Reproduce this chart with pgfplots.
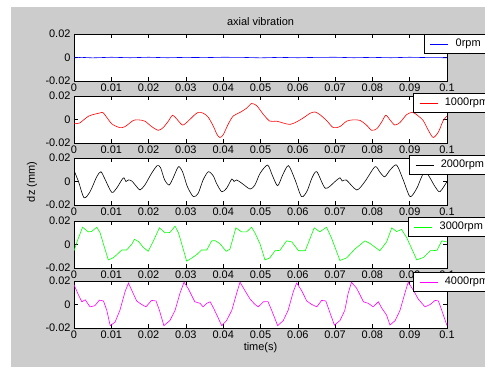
\documentclass[border=0pt]{standalone}
\usepackage{fontspec}
\setmainfont{Liberation Sans}
\usepackage{pgfplots}
\pgfplotsset{compat=1.18}
\definecolor{figgray}{RGB}{204,204,204}
\definecolor{mblue}{RGB}{0,0,255}
\definecolor{mred}{RGB}{255,0,0}
\definecolor{mgreen}{RGB}{0,255,0}
\definecolor{mmag}{RGB}{255,0,255}
\newcommand{\tf}{\fontsize{11}{12}\selectfont}
\pgfplotsset{
  sub/.style={
    at={(74bp,#1)}, anchor=south west,
    width=373bp, height=47bp, scale only axis,
    xmin=0, xmax=0.1, ymin=-0.02, ymax=0.02,
    scaled x ticks=false, scaled y ticks=false,
    xtick={0,0.01,0.02,0.03,0.04,0.05,0.06,0.07,0.08,0.09,0.1},
    xticklabels={0,0.01,0.02,0.03,0.04,0.05,0.06,0.07,0.08,0.09,0.1},
    ytick={-0.02,0,0.02}, yticklabels={-0.02,0,0.02},
    tick align=inside, major tick length=4bp,
    axis line style={line width=0.5bp},
    every tick/.style={black, line width=0.5bp},
    tick label style={font=\tf},
    xticklabel style={yshift=1bp},
    axis background/.style={fill=white},
    legend style={font=\tf, draw=black, line width=0.5bp, fill=white,
      anchor=north west, inner xsep=3bp, inner ysep=3bp},
    legend cell align=left,
    legend image code/.code={\path (0bp,0bp) (26bp,0bp); \draw[##1] (3bp,0bp) -- (21bp,0bp);},
  },
}
\begin{document}
\begin{tikzpicture}
\useasboundingbox (0,0) rectangle (485bp,367bp);
\fill[white] (0,0) rectangle (485bp,367bp);
\fill[figgray] (11bp,0) rectangle (485bp,360bp);

\begin{axis}[sub=286bp, legend style={at={(0.938,1)}}]
\addplot[mblue, line width=0.6bp] table[x expr=\thisrowno{0}/1000, y index=1] {
0 -0.0003
2 0.0001
5 -0.0003
10 0.0002
15 -0.0002
20 0.0002
25 -0.0002
30 0.0001
35 -0.0001
40 0.0002
45 0.0001
50 -0.0003
55 0.0001
60 -0.0002
65 0.0001
70 0.0002
75 -0.0002
80 0.0001
85 -0.0002
90 0.0002
95 -0.0001
100 -0.0002
};
\addlegendentry{0rpm}
\end{axis}

\begin{axis}[sub=224bp, legend style={at={(0.909,1.064)}}]
\addplot[mred, line width=0.6bp, smooth, tension=0.45] table[x expr=\thisrowno{0}/1000, y index=1] {
0 -0.0035
1.5 -0.0030
4 0.0030
7.0 0.0056
7.9 0.0055
10.1 -0.0036
12.3 -0.0069
13.7 -0.0060
15.9 -0.0008
17.2 -0.0003
19.0 -0.0014
20.8 -0.0060
22.6 -0.0092
23.9 -0.0069
25.3 -0.0014
26.4 0.0036
27.5 0.0006
29.1 -0.0047
30.6 -0.0014
32.0 0.0030
33.3 0.0061
34.7 0.0053
36.0 0.0019
37.4 -0.0060
38.3 -0.0125
39.1 -0.0153
40.0 -0.0130
41.4 -0.0036
42.7 0.0030
44.5 0.0060
46.3 0.0097
47.6 0.0136
49.0 0.0117
50.8 0.0042
52.5 -0.0014
54.3 -0.0014
56.1 -0.0030
57.9 -0.0042
59.7 -0.0020
61.5 0.0014
63.3 0.0053
64.6 0.0064
65.9 0.0042
67.7 -0.0008
69.5 -0.0069
71.3 -0.0060
73.1 -0.0014
74.9 -0.0003
76.7 -0.0008
78.5 -0.0050
79.8 -0.0092
81.2 -0.0078
82.5 -0.0020
83.6 0.0036
84.7 -0.0003
86.0 -0.0047
87.4 -0.0025
89.2 0.0042
90.8 0.0061
92.3 0.0030
93.6 -0.0008
95.0 -0.0092
96.3 -0.0153
97.7 -0.0106
99.0 -0.0008
100 0.0030
};
\addlegendentry{1000rpm}
\end{axis}

\begin{axis}[sub=162bp, legend style={at={(0.898,1.064)}}]
\addplot[black, line width=0.6bp, smooth, tension=0.45] table[x expr=\thisrowno{0}/1000, y index=1] {
0 0.0095
1.2 0.0000
2.7 -0.0138
4.3 -0.0087
6.1 0.0041
7.2 0.0083
8.2 0.0027
10.1 -0.0092
11.4 -0.0058
12.8 0.0013
13.4 0.0032
13.9 0.0000
14.6 0.0013
15.5 0.0004
16.8 -0.0044
17.7 -0.0072
19.0 -0.0030
20.8 0.0070
22.3 0.0135
23.2 0.0118
24.3 0.0013
25.5 -0.0030
26.6 0.0032
28.0 0.0126
29.1 0.0083
30.4 -0.0044
32.0 -0.0129
33.3 -0.0100
34.6 0.0013
36.0 0.0083
37.3 0.0050
38.2 -0.0015
39.6 -0.0087
40.9 -0.0058
42.3 0.0021
42.9 0.0000
43.6 0.0013
45.0 -0.0015
47.2 -0.0064
48.5 -0.0030
49.9 0.0070
51.9 0.0140
53.2 0.0050
54.6 -0.0036
56.0 0.0060
57.5 0.0135
59.2 0.0020
61.0 -0.0129
62.5 -0.0080
63.8 0.0030
65.1 0.0083
67.4 -0.0058
70.0 0.0000
71.3 0.0032
71.9 0.0004
73.0 0.0013
75.8 -0.0072
78.0 0.0000
80.7 0.0126
82.0 0.0080
83.3 0.0040
84.8 0.0100
86.5 0.0140
88.3 0.0010
90.1 -0.0129
91.9 -0.0058
94.1 0.0083
96.8 -0.0044
98.1 -0.0087
100 0.0000
};
\addlegendentry{2000rpm}
\end{axis}

\begin{axis}[sub=99bp, legend style={at={(0.895,1.085)}}]
\addplot[mgreen, line width=0.6bp] table[x expr=\thisrowno{0}/1000, y index=1] {
0 -0.0053
0.9 0.0031
2.3 0.0147
3.8 0.0108
4.7 0.0110
6.1 0.0147
7.0 0.0100
7.9 0.0003
9.2 -0.0131
10.5 -0.0114
11.4 -0.0089
12.8 -0.0047
14.1 -0.0047
15.5 0.0003
16.2 0.0044
17.3 0.0025
18.6 -0.0025
19.9 -0.0058
21.3 0.0031
22.9 0.0142
24.4 0.0100
25.7 0.0102
27.1 0.0156
28.0 0.0100
28.9 0.0003
30.2 -0.0142
31.5 -0.0117
32.9 -0.0086
34.2 -0.0047
35.6 -0.0047
36.9 0.0031
37.8 0.0033
39.1 0.0008
40.8 -0.0058
41.8 -0.0040
43.4 0.0142
44.9 0.0108
46.3 0.0108
47.6 0.0147
48.5 0.0100
49.9 0.0003
51.2 -0.0131
52.5 -0.0114
53.9 -0.0053
55.2 -0.0050
57.0 0.0031
58.4 0.0022
60.2 -0.0053
62.0 -0.0053
64.4 0.0142
65.9 0.0108
67.7 0.0147
69.0 0.0058
71.3 -0.0136
73.1 -0.0114
75.3 -0.0039
78.0 0.0031
79.4 0.0008
82.0 -0.0053
83.8 0.0022
85.2 0.0142
86.5 0.0110
87.8 0.0128
89.2 0.0058
91.9 -0.0131
93.7 -0.0110
95.5 -0.0053
97.3 -0.0050
98.6 0.0031
100 0.0022
};
\addlegendentry{3000rpm}
\end{axis}

\begin{axis}[sub=39bp, legend style={at={(0.909,1.19)}}]
\addplot[mmag, line width=0.6bp] table[x expr=\thisrowno{0}/1000, y index=1] {
0 0.0168
1.2 0.0081
2.1 0.0023
3.0 0.0040
4.3 -0.0020
5.6 -0.0010
6.8 0.0037
7.9 0.0030
8.8 -0.0050
9.7 -0.0180
11.0 -0.0150
12.3 -0.0050
13.7 0.0110
14.6 0.0183
15.5 0.0120
16.8 0.0030
18.1 0.0001
19.3 -0.0020
20.8 0.0035
22.0 0.0030
22.9 -0.0050
24.1 -0.0180
25.7 -0.0137
27.1 -0.0050
28.4 0.0095
29.5 0.0190
30.6 0.0137
32.4 0.0023
33.8 0.0010
34.6 -0.0020
35.6 0.0010
36.5 0.0023
37.4 -0.0030
38.3 -0.0090
39.6 -0.0180
40.9 -0.0137
42.3 -0.0050
43.6 0.0095
44.5 0.0190
45.8 0.0120
47.2 0.0046
48.5 0.0001
49.4 -0.0020
50.8 0.0023
52.0 0.0025
53.0 -0.0050
54.6 -0.0180
56.1 -0.0137
57.4 -0.0050
58.8 0.0110
59.7 0.0183
61.0 0.0120
62.4 0.0030
63.7 0.0001
65.1 -0.0020
66.4 0.0035
67.5 0.0030
68.4 -0.0050
69.8 -0.0175
71.3 -0.0137
72.6 -0.0050
73.5 0.0095
74.4 0.0190
75.8 0.0137
77.6 0.0023
78.9 0.0010
80.2 -0.0020
81.6 0.0023
82.5 -0.0030
83.8 -0.0090
84.7 -0.0175
86.1 -0.0137
87.4 -0.0050
88.7 0.0095
89.6 0.0190
91.0 0.0120
92.3 0.0046
94.1 -0.0020
95.5 0.0000
96.8 0.0035
97.7 0.0030
98.6 -0.0050
100 -0.0180
};
\addlegendentry{4000rpm}
\end{axis}

\node[font=\tf] at (260.5bp,345bp) {axial vibration};
\node[font=\tf, rotate=90] at (32bp,185bp) {dz (mm)};
\node[font=\tf] at (260.5bp,19bp) {time(s)};
\end{tikzpicture}
\end{document}
